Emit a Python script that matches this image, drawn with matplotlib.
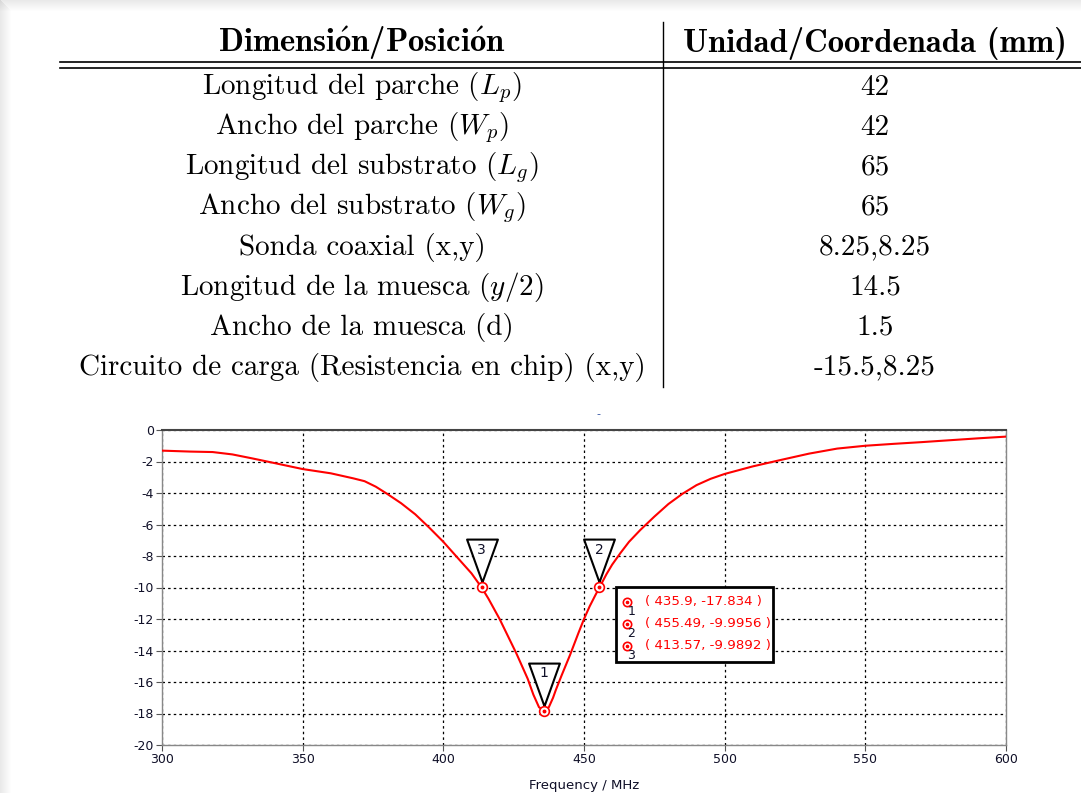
import numpy as np
import matplotlib
matplotlib.use("Agg")
import matplotlib.pyplot as plt
from matplotlib.lines import Line2D
from matplotlib.patches import Rectangle

# table contents
param_names = [r"Longitud del parche ($L_p$)",
               r"Ancho del parche ($W_p$)",
               r"Longitud del substrato ($L_g$)",
               r"Ancho del substrato ($W_g$)",
               "Sonda coaxial (x,y)",
               r"Longitud de la muesca ($y/2$)",
               "Ancho de la muesca (d)",
               "Circuito de carga (Resistencia en chip) (x,y)"]
param_values = ["42", "42", "65", "65", "8.25,8.25", "14.5", "1.5", "-15.5,8.25"]
header_left = r"Dimensi$\mathbf{\acute{o}}$n/Posici$\mathbf{\acute{o}}$n"
header_right = "Unidad/Coordenada (mm)"

# S11 curve
freq = [300, 310, 318, 325, 332, 340, 350, 360, 368, 372, 376, 380, 385, 390, 395,
        400, 405, 410, 413.57, 416, 418, 420, 423, 426, 428, 430, 432, 434, 435.9,
        437.5, 439, 440, 442, 445, 448, 450, 452, 454, 455.49, 458, 460, 463, 466,
        470, 475, 480, 485, 490, 495, 500, 510, 520, 530, 540, 550, 560, 570, 580,
        590, 600]
s11 = [-1.31, -1.37, -1.4, -1.55, -1.8, -2.1, -2.48, -2.75, -3.07, -3.25, -3.6,
       -4.05, -4.65, -5.35, -6.2, -7.1, -8.1, -9.1, -9.99, -10.7, -11.35, -12.0,
       -13.1, -14.2, -15.0, -15.8, -16.8, -17.6, -17.83, -17.6, -17.0, -16.5, -15.6,
       -14.3, -12.9, -12.0, -11.2, -10.5, -10.0, -9.15, -8.55, -7.8, -7.1, -6.35,
       -5.5, -4.7, -4.05, -3.5, -3.1, -2.79, -2.31, -1.9, -1.5, -1.18, -1.0, -0.88,
       -0.77, -0.65, -0.53, -0.42]

# markers
mk_id = ["1", "2", "3"]
mk_x = [435.9, 455.49, 413.57]
mk_y = [-17.834, -9.9956, -9.9892]

plt.rcParams["mathtext.fontset"] = "cm"
plt.rcParams["axes.unicode_minus"] = False
W, H = 1081, 793
fig = plt.figure(figsize=(W / 100, H / 100), dpi=100)
fig.patch.set_facecolor("white")

def fx(px):
    return px / W

def fy(py):
    return 1 - py / H

# drop shadow on top/left edge
for i in range(11):
    a = 0.06 * (11 - i) / 11 * 3
    fig.add_artist(Rectangle((0, fy(i + 1)), 1, 1 / H, transform=fig.transFigure,
                             color="#8a8a8a", alpha=min(a, 0.4), lw=0))
    fig.add_artist(Rectangle((fx(i), 0), 1 / W, fy(i), transform=fig.transFigure,
                             color="#8a8a8a", alpha=min(a, 0.4), lw=0))

serif = ["cmr10", "DejaVu Serif"]
fs = 21
fsh = 23.5
fig.text(fx(362), fy(43), header_left, family=["cmb10", "DejaVu Serif"], fontsize=fsh,
         ha="center", va="center")
fig.text(fx(875), fy(43), header_right, family=["cmb10", "DejaVu Serif"], fontsize=fsh,
         ha="center", va="center")
for i, (n, v) in enumerate(zip(param_names, param_values)):
    yy = 88 + i * 39.9
    fig.text(fx(362), fy(yy), n, family=serif, fontsize=fs, ha="center", va="center")
    fig.text(fx(875), fy(yy), v, family=serif, fontsize=fs, ha="center", va="center")

fig.add_artist(Line2D([fx(60), 1], [fy(62), fy(62)], color="black", lw=1.2))
fig.add_artist(Line2D([fx(60), 1], [fy(67.5), fy(67.5)], color="black", lw=1.2))
fig.add_artist(Line2D([fx(663), fx(663)], [fy(22), fy(387)], color="black", lw=1.0))

# plot
ax = fig.add_axes([fx(162), fy(745), fx(1006) - fx(162), fy(430) - fy(745)])
ax.plot(freq, s11, color="red", lw=1.5, zorder=3)
ax.set_xlim(300, 600)
ax.set_ylim(-20, 0)
ax.set_xticks(range(300, 601, 50))
ax.set_yticks(range(-20, 1, 2))
ax.grid(True, color="black", linestyle=(0, (2, 2.5)), lw=0.9)
ax.tick_params(labelsize=9, length=4, width=0.8, color="#555555", labelcolor="#101028",
               direction="out", pad=2)
for s in ax.spines.values():
    s.set_color("#888888")
    s.set_linewidth(1.0)
ax.spines["top"].set_color("#444444")
ax.spines["top"].set_linewidth(1.5)
ax.set_xlabel("Frequency / MHz", fontsize=9.5, color="#101028", labelpad=9)
ax.set_title("-", fontsize=8, color="#3050a0", pad=9, x=0.517)

# marker triangles
tri = [(0, 0.12), (-0.36, 1.12), (0.36, 1.12), (0, 0.12)]
ax.plot(mk_x, mk_y, linestyle="none", marker=tri, markersize=69, mfc="white",
        mec="black", mew=1.5, zorder=4)
for i, x, y in zip(mk_id, mk_x, mk_y):
    ax.annotate(i, (x, y), xytext=(0, 27), textcoords="offset points", ha="center",
                va="center", fontsize=10, color="#101028", zorder=5)
ax.plot(mk_x, mk_y, linestyle="none", marker="o", markersize=7, mfc="white",
        mec="red", mew=1.2, zorder=6)
ax.plot(mk_x, mk_y, linestyle="none", marker="o", markersize=1.8, color="red", zorder=7)

# marker value box
ax.add_patch(Rectangle((0.538, 0.263), 0.186, 0.239, transform=ax.transAxes,
                       facecolor="white", edgecolor="black", lw=2, zorder=8))
for k, (i, x, y) in enumerate(zip(mk_id, mk_x, mk_y)):
    yy = 0.455 - k * 0.07
    ax.plot([0.551], [yy], transform=ax.transAxes, marker="o", markersize=6, mfc="white",
            mec="red", mew=1.2, zorder=9, clip_on=False)
    ax.plot([0.551], [yy], transform=ax.transAxes, marker="o", markersize=1.6,
            color="red", zorder=10, clip_on=False)
    ax.text(0.556, yy - 0.03, i, transform=ax.transAxes, fontsize=9, color="#101028",
            ha="center", va="center", zorder=10)
    ax.text(0.572, yy, f"( {x:g}, {y:g} )", transform=ax.transAxes, fontsize=9.6,
            color="red", ha="left", va="center", zorder=10)

fig.savefig("out.png", dpi=100)
